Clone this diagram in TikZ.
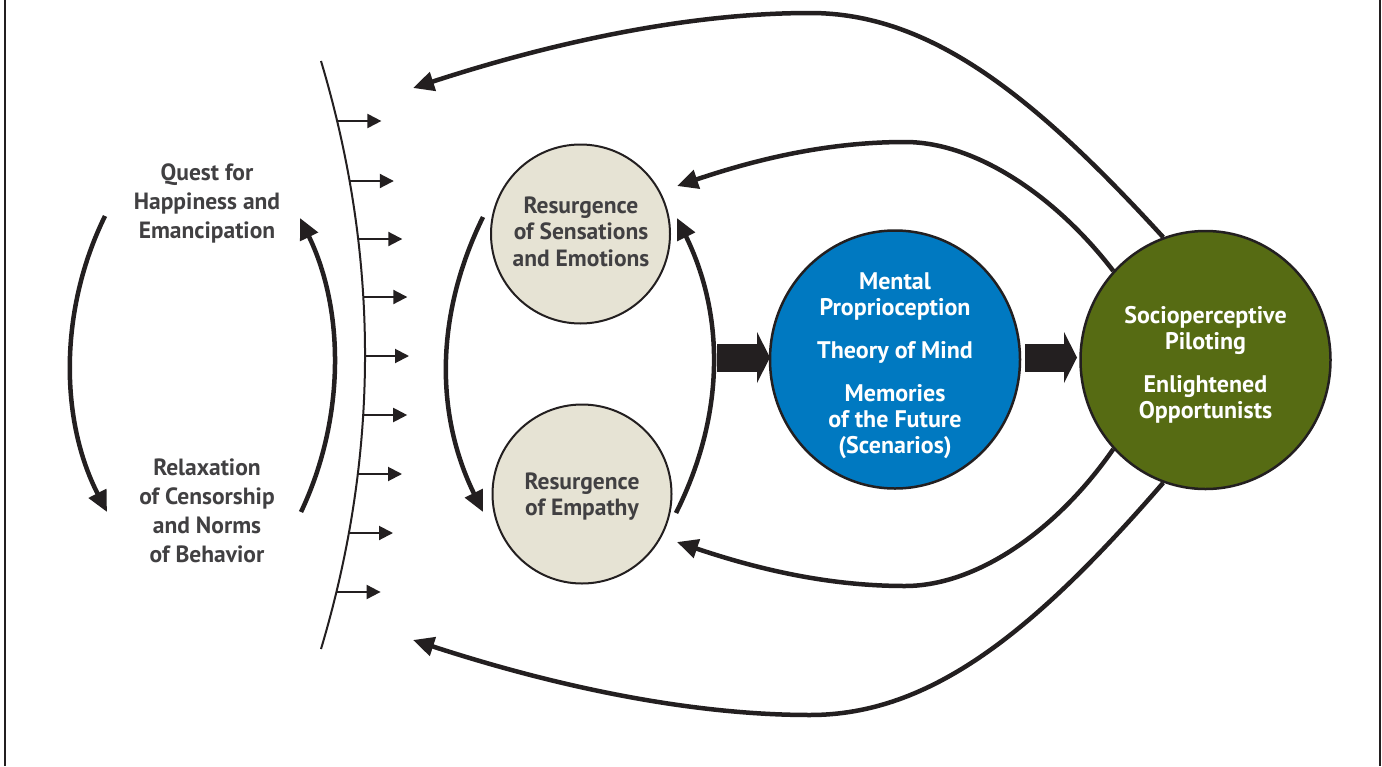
\documentclass[tikz,border=0pt]{standalone}
\usepackage{fontspec}
\setmainfont{PT Sans}
\usetikzlibrary{arrows.meta,shapes.geometric}
\definecolor{ink}{HTML}{231F20}
\definecolor{txt}{HTML}{414042}
\definecolor{beige}{HTML}{E6E3D4}
\definecolor{mblue}{HTML}{0079C1}
\definecolor{mgreen}{HTML}{566B13}
\begin{document}
\begin{tikzpicture}[x=1pt,y=-1pt,
  lbl/.style={font=\bfseries\fontsize{23.5}{29}\selectfont, text=txt, align=center, inner sep=0pt},
  beigecirc/.style={circle, minimum size=179pt, inner sep=0pt, fill=beige, draw=ink, line width=2pt},
  bigcirc/.style={ellipse, minimum width=250pt, minimum height=258pt, inner sep=0pt, draw=ink, line width=2.5pt},
  beigetxt/.style={text=txt, align=center, inner sep=0pt, font=\bfseries\fontsize{23.5}{26.5}\selectfont},
  whitetxt/.style={text=white, align=center, inner sep=0pt, font=\bfseries\fontsize{24}{26}\selectfont},
  thick arc/.style={draw=ink, line width=4.5pt, -{Triangle[length=21pt,width=19pt]}},
  small arrow/.style={draw=ink, line width=2pt, -{Triangle[length=14pt,width=14pt]}},
  fat arrow/.style={draw=ink, line width=28pt, -{Triangle[length=13pt,width=51pt,line width=0pt]}},
  frame/.style={draw=ink, line width=1.6pt}]
\useasboundingbox (0,0) rectangle (1382,766);
\fill[white] (0,0) rectangle (1382,766);
% frame lines
\draw[frame] (5,0) -- (5,766);
\draw[frame] (1380,0) -- (1380,766);

% nodes
\node[lbl] (quest) at (207,203) {Quest for\\Happiness and\\Emancipation};
\node[lbl] (relax) at (207,511) {Relaxation\\of Censorship\\and Norms\\of Behavior};
\node[beigecirc] (sens) at (580.5,234) {};
\node[beigetxt] (senstxt) at (581,231.5) {Resurgence\\of Sensations\\and Emotions};
\node[beigecirc] (emp) at (582,494) {};
\node[beigetxt] (emptxt) at (582,496.5) {Resurgence\\of Empathy};
\node[bigcirc, fill=mblue] (mind) at (895,359.5) {};
\node[whitetxt] (mindtxt) at (895,366) {Mental\\Proprioception\\[17pt]Theory of Mind\\[17pt]Memories\\of the Future\\(Scenarios)};
\node[bigcirc, fill=mgreen] (pilot) at (1205.5,360) {};
\node[whitetxt] (pilottxt) at (1205.5,365) {Socioperceptive\\Piloting\\[17pt]Enlightened\\Opportunists};

% bracket
\coordinate (brTop) at (321,61);
\coordinate (brBot) at (321,649);
\draw[draw=ink, line width=2pt] (brTop) .. controls (379.7,257) and (379.7,453) .. (brBot);
\foreach \i/\y/\x in {1/121/337.4, 2/181/349.8, 3/239/358.3, 4/297/363.3, 5/356/365, 6/415/363.2, 7/474/358, 8/533/349, 9/592/336.6} {
  \coordinate (s\i) at (\x,\y);
  \coordinate (t\i) at (\x+44,\y);
  \draw[small arrow] (s\i) -- (t\i);
}

% left cycle
\coordinate (lA) at (105,216);
\coordinate (lB) at (107,512);
\coordinate (rA) at (301,512);
\coordinate (rB) at (300,218);
\draw[thick arc] (lA) .. controls (59.3,309) and (59.3,419) .. (lB);
\draw[thick arc] (rA) .. controls (345,419) and (345,311) .. (rB);

% beige cycle
\coordinate (bA) at (483,217);
\coordinate (bB) at (483,512);
\coordinate (cA) at (676,513);
\coordinate (cB) at (677,218);
\draw[thick arc] (bA) .. controls (435,315) and (435,414) .. (bB);
\draw[thick arc] (cA) .. controls (725,415) and (725,316) .. (cB);

% fat arrows
\coordinate (f1s) at (717,357.5);
\coordinate (f1e) at (770,357.5);
\coordinate (f2s) at (1025,357.5);
\coordinate (f2e) at (1077,357.5);
\draw[fat arrow] (f1s) -- (f1e);
\draw[fat arrow] (f2s) -- (f2e);

% feedback curves
\coordinate (oT) at (413,88);
\coordinate (iT) at (677,186);
\coordinate (iB) at (677,542);
\coordinate (oB) at (413,640);
\draw[thick arc] (pilot.109) .. controls (1033,95) and (930,13) .. (810,13) .. controls (690,13) and (555.5,41.5) .. (oT);
\draw[thick arc] (pilot.136) .. controls (1055,195) and (975,142) .. (905,142) .. controls (825,142) and (753,160.4) .. (iT);
\draw[thick arc] (pilot.224) .. controls (1055,533) and (975,586) .. (905,586) .. controls (825,586) and (753,567.6) .. (iB);
\draw[thick arc] (pilot.251) .. controls (1033,633) and (930,715) .. (810,715) .. controls (690,715) and (555.5,686.5) .. (oB);
\end{tikzpicture}
\end{document}
